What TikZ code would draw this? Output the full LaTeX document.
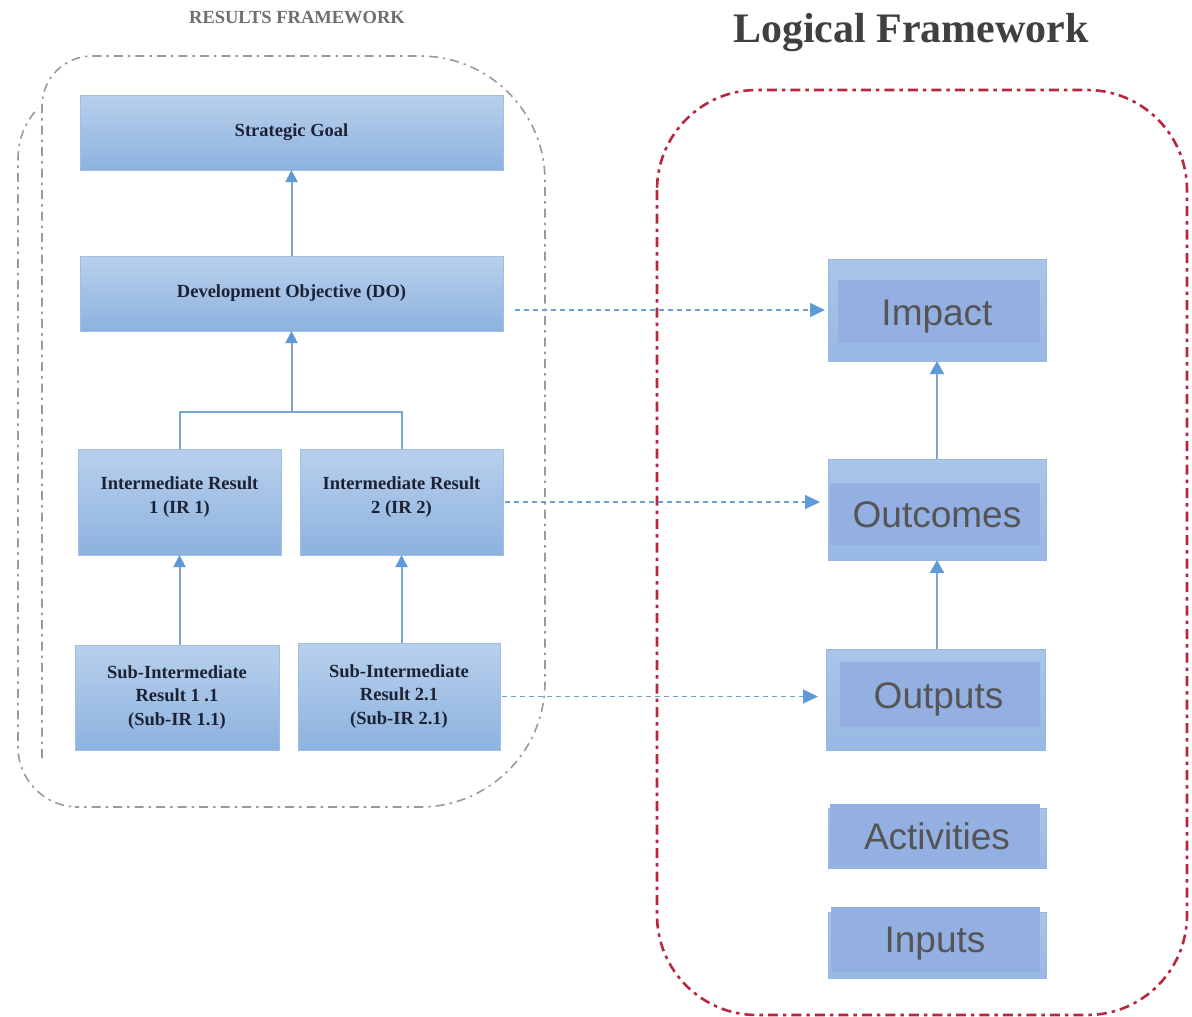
\documentclass[tikz,border=0pt]{standalone}
\usepackage{fontspec}
\setmainfont{Liberation Serif}
\newfontfamily\arialf{Liberation Sans}
\usetikzlibrary{arrows.meta,calc}
\definecolor{lbtop}{HTML}{B8D0EC}
\definecolor{lbbot}{HTML}{8DB2DF}
\definecolor{lbedge}{HTML}{9FBEE3}
\definecolor{ltext}{HTML}{1C2233}
\definecolor{router}{HTML}{A9C6E9}
\definecolor{routerb}{HTML}{97B8E3}
\definecolor{rinner}{HTML}{94B0E2}
\definecolor{rtextc}{HTML}{555555}
\definecolor{treec}{HTML}{7AA7D6}
\definecolor{linkc}{HTML}{6A9FD8}
\definecolor{arrc}{HTML}{5E9AD6}
\definecolor{redc}{HTML}{B8283C}
\definecolor{grayc}{HTML}{9A9A9A}
\definecolor{titlegray}{HTML}{6E6E6E}
\definecolor{titledark}{HTML}{404040}
\begin{document}
\begin{tikzpicture}[x=1pt,y=-1pt,
  lbox/.style={top color=lbtop,bottom color=lbbot,draw=lbedge,line width=0.6pt,inner sep=2pt,outer sep=0pt,align=center,font=\bfseries\fontsize{18.5}{23.5}\selectfont,text=ltext},
  rnode/.style={inner sep=0pt,outer sep=0pt,font=\arialf\fontsize{37}{42}\selectfont,text=rtextc,text height=40pt},
  tree/.style={draw=treec,line width=2pt},
  ttip/.style={-{Triangle[length=12pt,width=12pt,color=arrc]}},
  link/.style={draw=linkc,line width=1.4pt,dash pattern=on 5pt off 4pt,-{Triangle[length=15pt,width=14pt,color=arrc]}},
  rarrow/.style={draw=treec,line width=2pt,-{Triangle[length=13pt,width=14pt,color=arrc]}},
  outerbox/.style={top color=router,bottom color=routerb,draw=routerb,line width=0.8pt},
  innerbox/.style={fill=rinner},
  grayframe/.style={grayc,line width=1.6pt,dash pattern=on 9pt off 5pt on 2.5pt off 5pt},
]
\useasboundingbox (0,0) rectangle (1192,1017);

% containers
\draw[grayframe] (300,56) [rounded corners=125pt] -- (545,56) -- (545,807) -- (200,807) [rounded corners=60pt] -- (18,807) -- (18,160);
\draw[grayframe] (18,160) .. controls (18,140) and (24,124) .. (38,108);
\draw[grayframe,rounded corners=50pt] (42,758) -- (42,56) -- (300,56);
\draw[redc,line width=2.6pt,dash pattern=on 10pt off 5pt on 3.5pt off 5pt,rounded corners=100pt] (657,90) rectangle (1187,1015);

% titles
\node[font=\bfseries\fontsize{18.5}{20}\selectfont,text=titlegray,inner sep=0pt] (rftitle) at (297,18) {RESULTS FRAMEWORK};
\node[font=\bfseries\fontsize{42}{48}\selectfont,text=titledark,inner sep=0pt] (lftitle) at (911,33) {Logical Framework};

% results framework boxes
\node[lbox,minimum width=423pt,minimum height=75pt] (sg) at (291.5,132.5) {Strategic Goal};
\node[lbox,minimum width=423pt,minimum height=75pt] (do) at (291.5,293.5) {Development Objective (DO)};
\node[lbox,minimum width=203pt,minimum height=106pt,text depth=14pt] (ir1) at (179.5,502) {Intermediate Result\\1 (IR 1)};
\node[lbox,minimum width=203pt,minimum height=106pt,text depth=14pt] (ir2) at (401.5,502) {Intermediate Result\\2 (IR 2)};
\node[lbox,minimum width=204pt,minimum height=105pt] (sub1) at (177,697.5) {Sub-Intermediate\\Result 1 .1\\(Sub-IR 1.1)};
\node[lbox,minimum width=202pt,minimum height=107pt] (sub2) at (399,696.5) {Sub-Intermediate\\Result 2.1\\(Sub-IR 2.1)};

\coordinate (j) at (291.5,412);
\draw[tree,ttip] (do.north) -- (sg.south);
\draw[tree] (ir1.north) -- (ir1.north |- j) -- (ir2.north |- j) -- (ir2.north);
\draw[tree,ttip] (j) -- (do.south);
\draw[tree,ttip] (ir1.south |- sub1.north) -- (ir1.south);
\draw[tree,ttip] (ir2.south |- sub2.north) -- (ir2.south);

% logical framework boxes
\fill[outerbox] (828,259) rectangle (1046,361);
\fill[innerbox] (838,280) rectangle (1040,343);
\node[rnode,text depth=8.4pt,minimum width=218pt,minimum height=102pt] (impact) at (937,310) {Impact};

\fill[outerbox] (828,459) rectangle (1046,560);
\fill[innerbox] (830,483) rectangle (1040,545);
\node[rnode,text depth=4.4pt,minimum width=218pt,minimum height=101pt] (outcomes) at (937,509.5) {Outcomes};

\fill[outerbox] (826,649) rectangle (1045,750);
\fill[innerbox] (840,662) rectangle (1040,727);
\node[rnode,text depth=22.4pt,minimum width=219pt,minimum height=101pt] (outputs) at (935.5,699.5) {\hspace*{6pt}Outputs};

\fill[outerbox] (828,808) rectangle (1046,868);
\fill[innerbox] (830,804) rectangle (1040,866);
\node[rnode,text depth=13.4pt,minimum width=218pt,minimum height=60pt] (activities) at (937,836) {Activities};

\fill[outerbox] (828,912) rectangle (1046,978);
\fill[innerbox] (831,907) rectangle (1040,972);
\node[rnode,text depth=15.4pt,minimum width=218pt,minimum height=66pt] (inputs) at (935,940) {Inputs};

\draw[rarrow] (outcomes.north) -- (impact.south);
\draw[rarrow] (outcomes.south |- outputs.north) -- (outcomes.south);

% cross links
\draw[link] ([xshift=12pt]do.east |- impact.west) -- ([xshift=-3pt]impact.west);
\draw[link] ([xshift=2pt]ir2.east) -- ([xshift=-8pt]outcomes.west |- ir2.east);
\draw[link] ([xshift=2pt]sub2.east) -- ([xshift=-8pt]outputs.west |- sub2.east);
\end{tikzpicture}
\end{document}
